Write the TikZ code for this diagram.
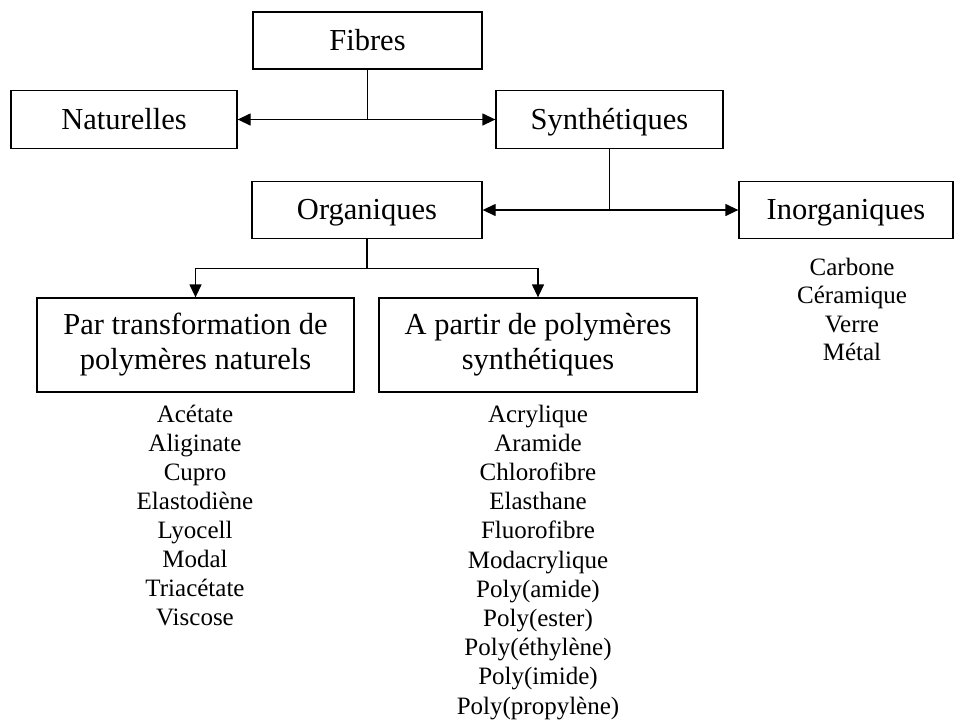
\documentclass[tikz,border=0pt]{standalone}
\usepackage{fontspec}
\setmainfont{Liberation Serif}
\usetikzlibrary{arrows.meta}
\tikzset{
  boite/.style = {draw, line width=1.3pt, inner sep=0pt, align=center,
                  font=\fontsize{30.5}{35}\selectfont},
  unelig/.style = {text height=22pt, text depth=3pt},
  liste/.style = {anchor=base, inner sep=0pt, font=\fontsize{25}{29}\selectfont},
  fleche/.style = {line width=1.3pt, -{Triangle[length=13pt,width=12pt]}},
  double/.style = {line width=1.3pt, {Triangle[length=13pt,width=12pt]}-{Triangle[length=13pt,width=12pt]}},
  trait/.style = {line width=1.3pt}
}
\begin{document}
\begin{tikzpicture}[x=1pt, y=-1pt]
        \useasboundingbox (0,0) rectangle (955,724);
        % boites
        \node[boite, unelig, minimum width=229pt, minimum height=57pt] (fibres) at (367.5,40.5) {Fibres};
        \node[boite, unelig, minimum width=226pt, minimum height=58pt] (nat) at (124,119.5) {Naturelles};
        \node[boite, unelig, minimum width=227pt, minimum height=58pt] (synth) at (609.5,119.5) {Synthétiques};
        \node[boite, unelig, minimum width=230pt, minimum height=57pt] (org) at (367,210) {Organiques};
        \node[boite, unelig, minimum width=214pt, minimum height=57pt] (inorg) at (846,210) {Inorganiques};
        \node[boite, minimum width=317pt, minimum height=94pt] (transf) at (195.5,345) {Par transformation de\\polymères naturels};
        \node[boite, minimum width=318pt, minimum height=94pt] (apartir) at (538,345) {A partir de polymères\\synthétiques};
        % liaisons
        \draw[trait] (fibres.south) -- (fibres.south |- nat.east);
        \draw[double] (nat.east) -- (synth.west);
        \draw[trait] (synth.south) -- (synth.south |- org.east);
        \draw[double] (org.east) -- (inorg.west);
        \draw[trait] (org.south) -- ++(0,29) coordinate (split);
        \draw[fleche] (split) -| (transf.north);
        \draw[fleche] (split) -| (apartir.north);
        % listes
        \foreach \nom [count=\i from 0] in {Carbone,Céramique,Verre,Métal}
        \node[liste] (inorg\i) at (852,{275+28.5*\i}) {\nom};
        \foreach \nom [count=\i from 0] in {Acétate,Aliginate,Cupro,Elastodiène,Lyocell,Modal,Triacétate,Viscose}
        \node[liste] (transf\i) at (195,{422+29*\i}) {\nom};
        \foreach \nom [count=\i from 0] in {Acrylique,Aramide,Chlorofibre,Elasthane,Fluorofibre,Modacrylique,Poly(amide),Poly(ester),Poly(éthylène),Poly(imide),Poly(propylène)}
        \node[liste] (apartir\i) at (538,{422+29.2*\i}) {\nom};
    \end{tikzpicture}
\end{document}
